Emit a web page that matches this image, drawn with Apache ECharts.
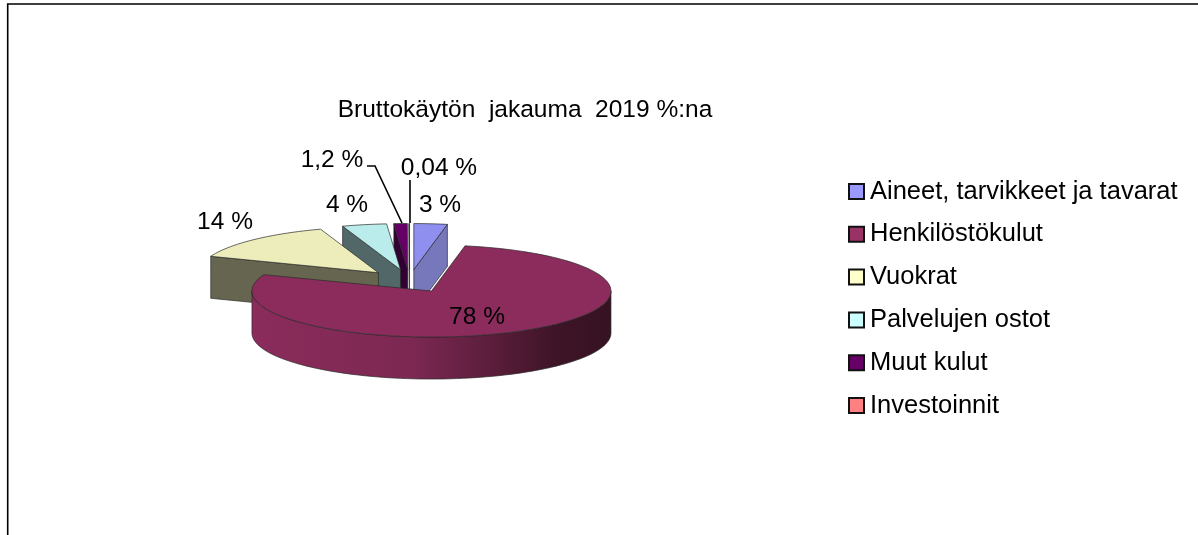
<!DOCTYPE html>
<html><head><meta charset="utf-8">
<style>html,body{margin:0;padding:0;background:#fff}#c{width:1198px;height:535px}</style>
<script src="https://cdn.jsdelivr.net/npm/echarts@6/dist/echarts.min.js"></script>
</head><body><div id="c"></div>
<script>
const categories = ['Aineet, tarvikkeet ja tavarat','Henkilöstökulut','Vuokrat','Palvelujen ostot','Muut kulut','Investoinnit'];
const values = [3, 78, 14, 4, 1.2, 0.04];
const legendColors = ['#9999FF','#993366','#FFFFCC','#CCFFFF','#660066','#FF8080'];
const topColors = ['#8F8FEF','#8B2C5C','#EDEDBB','#BAECEC','#660066','#EF7777'];
const wallColors = ['#7777BB','#6E2349','#666650','#526868','#330033','#773C3C'];
const drawOrder = [5,6,4,3,2,1]; // z of each slice: higher is nearer the viewer
const labelPos = [[440,205],[477,317],[225,222],[347,205],[332,160],[439,168]];
const leaders = [null,null,null,null,[[367,166],[375,166],[402,223]],[[410,180],[410,223]]];

const pie = {cx:409.6, cy:281, rx:179.5, ry:46, depth:42, explode:0.25};
const total = values.reduce((a,b)=>a+b,0);
const rad = d => d*Math.PI/180;
const edge = '#2a2a2a';

function arc(cx,cy,a0,a1){
  const pts=[], n=Math.max(2,Math.ceil((a1-a0)/2));
  for(let i=0;i<=n;i++){const a=rad(a0+(a1-a0)*i/n);pts.push([cx+pie.rx*Math.sin(a),cy-pie.ry*Math.cos(a)]);}
  return pts;
}
function makeRender(idx){
  return function(params,api){
    const v=api.value(0);
    let before=0; for(let i=0;i<idx;i++) before+=values[i];
    const a0=before/total*360, a1=(before+v)/total*360, mid=rad((a0+a1)/2);
    const cx=pie.cx+pie.explode*pie.rx*Math.sin(mid), cy=pie.cy-pie.explode*pie.ry*Math.cos(mid);
    const kids=[], d=pie.depth;
    const wall=(a)=>{const p=arc(cx,cy,a,a)[0];
      kids.push({type:'polygon',shape:{points:[[cx,cy],p,[p[0],p[1]+d],[cx,cy+d]]},
        style:{fill:wallColors[idx],stroke:edge,lineWidth:0.7}});};
    if(Math.sin(rad(a0))<-1e-6) wall(a0);
    if(Math.sin(rad(a1))>1e-6) wall(a1);
    const r0=Math.max(a0,90), r1=Math.min(a1,270);
    if(r1>r0){
      const up=arc(cx,cy,r0,r1), low=up.slice().reverse().map(p=>[p[0],p[1]+d]);
      const x0=cx-pie.rx, x1=cx+pie.rx;
      kids.push({type:'polygon',shape:{points:up.concat(low)},
        style:{fill:new echarts.graphic.LinearGradient(x0,0,x1,0,[
          {offset:0,color:'#8B2C5C'},{offset:0.45,color:'#7C2852'},{offset:0.85,color:'#3E1427'},{offset:1,color:'#361222'}],true),
          stroke:edge,lineWidth:0.7}});
    }
    kids.push({type:'polygon',shape:{points:[[cx,cy]].concat(arc(cx,cy,a0,a1))},
      style:{fill:topColors[idx],stroke:edge,lineWidth:0.7}});
    if(leaders[idx]) kids.push({type:'polyline',shape:{points:leaders[idx]},style:{fill:null,stroke:'#000',lineWidth:1.6}});
    kids.push({type:'text',style:{text:String(v).replace('.',',')+' %',x:labelPos[idx][0],y:labelPos[idx][1],
      align:'center',verticalAlign:'middle',fill:'#000',font:'24.5px "Liberation Sans", Arial, sans-serif'},z2:10});
    return {type:'group',children:kids};
  };
}
const chart=echarts.init(document.getElementById('c'),null,{renderer:'canvas'});
chart.setOption({
  animation:false,
  backgroundColor:'#fff',
  title:{text:'Bruttokäytön  jakauma  2019 %:na',left:520,top:105,textAlign:'center',textVerticalAlign:'middle',
    textStyle:{fontFamily:'"Liberation Sans", Arial, sans-serif',fontWeight:'normal',fontSize:24.5,color:'#000'}},
  legend:{orient:'vertical',left:843,top:173.5,itemWidth:15,itemHeight:15,itemGap:16.8,icon:'rect',
    textStyle:{fontFamily:'"Liberation Sans", Arial, sans-serif',fontSize:25.5,color:'#000',padding:[0,0,0,1]},
    selectedMode:false,
    data:categories.map((n,i)=>({name:n,itemStyle:{color:legendColors[i],borderColor:'#111',borderWidth:2}}))},
  graphic:[{type:'polyline',shape:{points:[[7.7,536],[7.7,4],[1198,4]]},style:{fill:null,stroke:'#000',lineWidth:1.6},silent:true}],
  series:categories.map((n,i)=>({
    type:'custom',name:n,coordinateSystem:'none',z:drawOrder[i]+1,silent:true,
    itemStyle:{color:legendColors[i]},
    data:[[values[i]]],
    renderItem:makeRender(i)
  }))
});
</script></body></html>
